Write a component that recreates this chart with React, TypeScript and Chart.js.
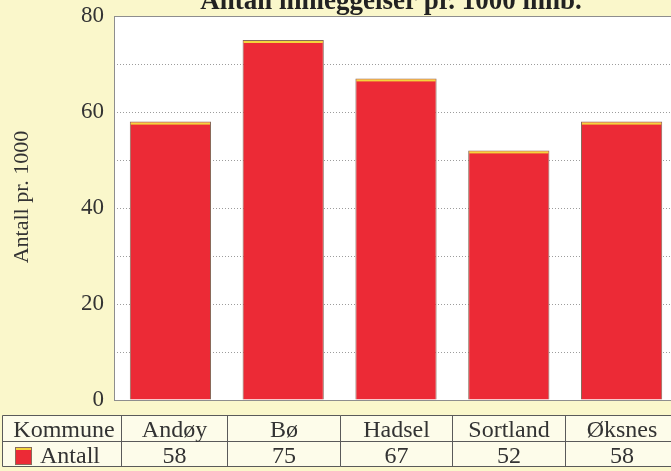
import React, { useEffect, useRef } from 'react';
import { Chart, registerables } from 'chart.js';

Chart.register(...registerables);

const TITLE = 'Antall innleggelser pr. 1000 innb.';
const Y_TITLE = 'Antall pr. 1000';
const CATEGORY_HEADER = 'Kommune';
const SERIES_NAME = 'Antall';
const categories = ['Andøy', 'Bø', 'Hadsel', 'Sortland', 'Øksnes'];
const values = [58, 75, 67, 52, 58];
const yTickLabels = [0, 20, 40, 60, 80];

const BG = '#FAF7CB';
const TABLE_BG = '#FDFCEA';
const BAR_RED = '#EC2A36';
const BAR_TOP = '#F4D43C';
const TEXT = '#333333';
const SERIF = '"Liberation Serif", "DejaVu Serif", serif';

export default function App() {
  const ref = useRef<HTMLCanvasElement>(null);

  useEffect(() => {
    const canvas = ref.current;
    if (!canvas) return;

    const decor = {
      id: 'decor',
      beforeDraw(chart: any) {
        const { ctx, chartArea: a } = chart;
        ctx.save();
        ctx.fillStyle = '#FFFFFF';
        ctx.fillRect(a.left, a.top, a.right - a.left, a.bottom - a.top);
        ctx.restore();
      },
      afterDatasetsDraw(chart: any) {
        const { ctx, chartArea: a } = chart;
        ctx.save();
        const meta = chart.getDatasetMeta(0);
        meta.data.forEach((bar: any) => {
          const p = bar.getProps(['x', 'y', 'width'], true);
          ctx.fillStyle = BAR_TOP;
          ctx.fillRect(p.x - p.width / 2 + 1, p.y + 1, p.width - 2, 2);
        });
        ctx.strokeStyle = '#8E8E8E';
        ctx.lineWidth = 1;
        ctx.strokeRect(Math.round(a.left) + 0.5, Math.round(a.top) + 0.5, a.right - a.left, a.bottom - a.top);
        ctx.restore();
      },
      afterDraw(chart: any) {
        const { ctx } = chart;
        const xs = chart.scales.x;
        ctx.save();
        // Title (partly cut off at the top)
        ctx.fillStyle = '#222222';
        ctx.font = `bold 27px ${SERIF}`;
        ctx.textAlign = 'center';
        ctx.textBaseline = 'alphabetic';
        ctx.fillText(TITLE, 391, 9);

        // Y axis title
        ctx.save();
        ctx.translate(22, 197);
        ctx.rotate(-Math.PI / 2);
        ctx.font = `22px ${SERIF}`;
        ctx.fillStyle = TEXT;
        ctx.textAlign = 'center';
        ctx.textBaseline = 'middle';
        ctx.fillText(Y_TITLE, 0, 0);
        ctx.restore();

        // Data table
        const half = (xs.getPixelForValue(1) - xs.getPixelForValue(0)) / 2;
        const tTop = 415.5, tMid = 441.5, tBot = 466.5, tLeft = 2.5, labelRight = 121.5;
        const bounds: number[] = [labelRight];
        for (let i = 0; i < categories.length; i++) {
          bounds.push(Math.round(xs.getPixelForValue(i) + half) + 0.5);
        }
        const tRight = bounds[bounds.length - 1];
        ctx.fillStyle = TABLE_BG;
        ctx.fillRect(tLeft, tTop, tRight - tLeft, tBot - tTop);
        ctx.strokeStyle = '#5A5A5A';
        ctx.lineWidth = 1;
        ctx.beginPath();
        [tTop, tMid, tBot].forEach((y) => { ctx.moveTo(tLeft, y); ctx.lineTo(tRight, y); });
        [tLeft, ...bounds].forEach((x) => { ctx.moveTo(x, tTop); ctx.lineTo(x, tBot); });
        ctx.stroke();

        ctx.fillStyle = TEXT;
        ctx.textBaseline = 'alphabetic';
        ctx.textAlign = 'center';
        ctx.font = `24px ${SERIF}`;
        ctx.fillText(CATEGORY_HEADER, 64, 437);
        categories.forEach((c, i) => {
          const cx = (bounds[i] + bounds[i + 1]) / 2;
          ctx.fillText(c, cx, 437);
          ctx.fillText(String(values[i]), cx, 463);
        });
        // legend swatch + series name
        ctx.fillStyle = BAR_RED;
        ctx.fillRect(15, 447, 17, 18);
        ctx.fillStyle = BAR_TOP;
        ctx.fillRect(15, 448, 17, 2);
        ctx.strokeStyle = '#8A6A5A';
        ctx.strokeRect(15.5, 447.5, 16, 17);
        ctx.fillStyle = TEXT;
        ctx.textAlign = 'left';
        ctx.fillText(SERIES_NAME, 40, 463);
        ctx.restore();
      },
    };

    const chart = new Chart(canvas, {
      type: 'bar',
      data: {
        labels: categories,
        datasets: [
          {
            label: SERIES_NAME,
            data: values,
            backgroundColor: BAR_RED,
            borderColor: '#8A6A5A',
            borderWidth: { left: 1, right: 1, top: 1, bottom: 0 },
            borderSkipped: false,
            barPercentage: 0.72,
            categoryPercentage: 1,
          },
        ],
      },
      options: {
        responsive: false,
        animation: false,
        events: [],
        layout: { padding: { left: 0, top: 16, right: 12, bottom: 71 } },
        plugins: {
          legend: { display: false },
          title: { display: false },
          tooltip: { enabled: false },
        },
        scales: {
          x: { display: false },
          y: {
            min: 0,
            max: 80,
            afterFit: (s: any) => {
              s.width = 114;
              s.paddingTop = 0;
              s.paddingBottom = 0;
            },
            ticks: {
              stepSize: 10,
              padding: 10,
              color: TEXT,
              font: { family: SERIF, size: 23 },
              callback: (v: any) => (yTickLabels.includes(Number(v)) ? String(v) : ''),
            },
            grid: { color: '#9C9C9C', lineWidth: 1, drawTicks: false },
            border: { display: false, dash: [1, 2] },
          },
        },
      },
      plugins: [decor],
    } as any);

    return () => chart.destroy();
  }, []);

  return (
    <div
      style={{
        position: 'fixed',
        left: 0,
        top: 0,
        width: 671,
        height: 471,
        overflow: 'hidden',
        background: BG,
      }}
    >
      <canvas ref={ref} width={690} height={471} style={{ display: 'block', width: 690, height: 471 }} />
    </div>
  );
}
